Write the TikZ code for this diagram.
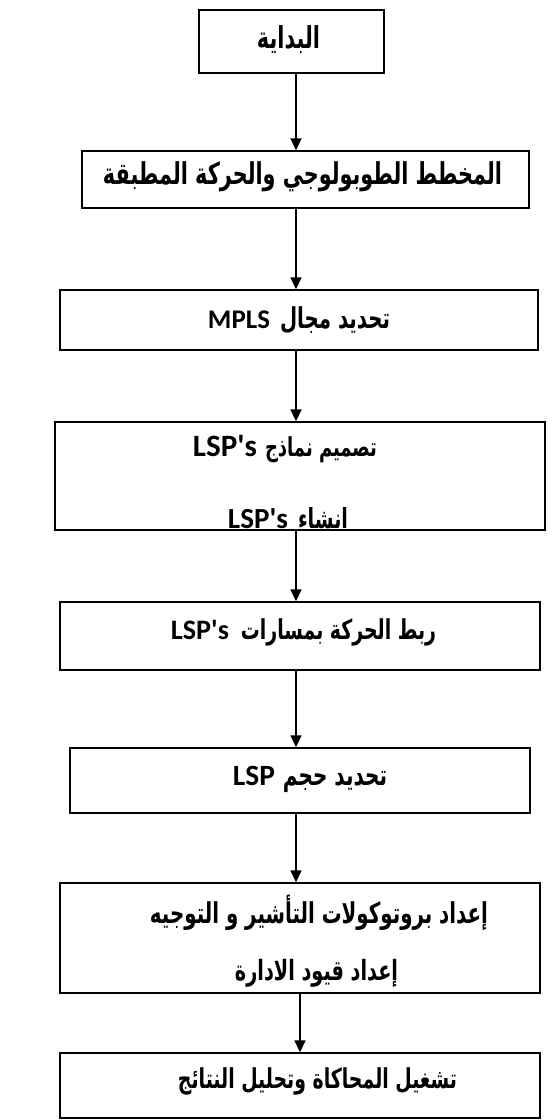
\documentclass[tikz,border=0pt]{standalone}
\usepackage{fontspec}
\usepackage{graphicx}
\usetikzlibrary{arrows.meta}
\TeXXeTstate=1
\newfontfamily\arabicfont[Script=Arabic]{DejaVu Sans}
\newfontfamily\latinfont[Ligatures=TeXOff]{Carlito}

% Arabic words, bold, set to a given width and drawn a little taller
\newcommand\arpart[2]{\scalebox{1}[1.45]{\resizebox{#1}{!}{\arabicfont\bfseries #2}}}
% Latin words, bold, set to a given width
\newcommand\latpart[2]{\resizebox{#1}{!}{\latinfont\bfseries #2}}

\tikzset{
  stepbox/.style={draw, line width=1.4pt, inner sep=0pt},
  flow/.style={line width=1.6pt, -{Triangle[length=12pt,width=11pt]}},
  txt/.style={inner sep=0pt},
}

\begin{document}
\begin{tikzpicture}[x=1pt,y=-1pt]
\useasboundingbox (0,0) rectangle (560,1120);

\coordinate (axis) at (296,0);
\coordinate (axisb) at (300,0);

% frames of the steps
\node[stepbox, minimum width=185pt, minimum height=63pt] (start)  at (291.5,41.5) {};
\node[stepbox, minimum width=447pt, minimum height=57pt] (topo)   at (305.5,179.5) {};
\node[stepbox, minimum width=478pt, minimum height=60pt] (domain) at (299,320) {};
\node[stepbox, minimum width=490pt, minimum height=108pt] (design) at (300,476) {};
\node[stepbox, minimum width=480pt, minimum height=68pt] (bind)   at (300,636) {};
\node[stepbox, minimum width=460pt, minimum height=65pt] (size)   at (300,780.5) {};
\node[stepbox, minimum width=480pt, minimum height=110pt] (config) at (300,938) {};
\node[stepbox, minimum width=480pt, minimum height=65pt] (run)    at (300,1085.5) {};

% texts of the steps (in mixed lines the Latin word stands on the left)
\node[txt] (start-t)  at (288.5,40) {\arpart{63pt}{\beginR البداية\endR}};
\node[txt] (topo-t)   at (302.5,177) {\arpart{399pt}{\beginR المخطط الطوبولوجي والحركة المطبقة\endR}};
\node[txt] (domain-t) at (299,320)
  {\latpart{62pt}{MPLS}\hspace*{10pt}\arpart{110pt}{\beginR تحديد مجال\endR}};
\node[txt] (design-a) at (285,449)
  {\latpart{64pt}{LSP's}\hspace*{8pt}\arpart{112pt}{\beginR تصميم نماذج\endR}};
% the second line runs past the lower edge of its frame and is cut there
\begin{scope}
  \clip (design.north west) rectangle (design.south east);
  \node[txt] (design-b) at (288,518)
    {\latpart{60pt}{LSP's}\hspace*{10pt}\arpart{50pt}{\beginR انشاء\endR}};
\end{scope}
\node[txt] (bind-t)   at (303.5,632)
  {\latpart{58pt}{LSP's}\hspace*{12pt}\arpart{195pt}{\beginR ربط الحركة بمسارات\endR}};
\node[txt] (size-t)   at (310,779)
  {\latpart{42pt}{LSP}\hspace*{8pt}\arpart{104pt}{\beginR تحديد حجم\endR}};
\node[txt] (config-a) at (319,913) {\arpart{338pt}{\beginR إعداد بروتوكولات التأشير و التوجيه\endR}};
\node[txt] (config-b) at (316.5,973) {\arpart{163pt}{\beginR إعداد قيود الادارة\endR}};
\node[txt] (run-t)    at (317.5,1081) {\arpart{279pt}{\beginR تشغيل المحاكاة وتحليل النتائج\endR}};

% connectors
\draw[flow] (axis |- start.south)  -- (axis |- topo.north);
\draw[flow] (axis |- topo.south)   -- (axis |- domain.north);
\draw[flow] (axis |- domain.south) -- (axis |- design.north);
\draw[flow] (axis |- design.south) -- (axis |- bind.north);
\draw[flow] (axis |- bind.south)   -- (axis |- size.north);
\draw[flow] (axis |- size.south)   -- (axis |- config.north);
\draw[flow] (axisb |- config.south) -- (axisb |- run.north);
\end{tikzpicture}
\end{document}
